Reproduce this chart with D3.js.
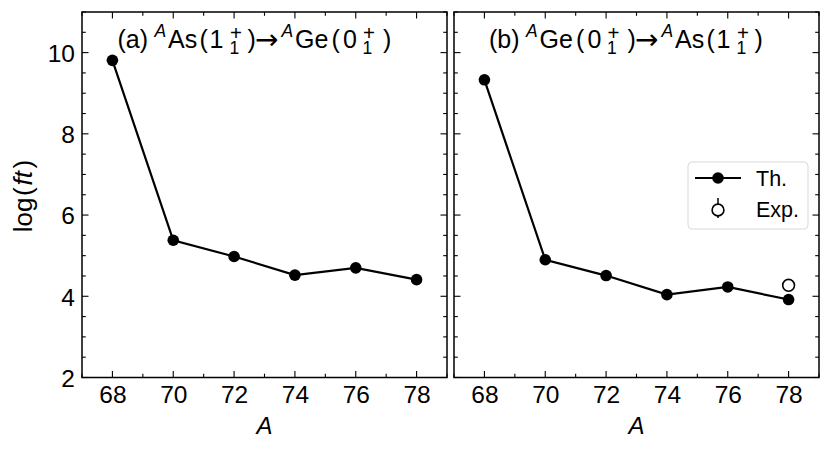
<!DOCTYPE html>
<html>
<head>
<meta charset="utf-8">
<script src="https://cdn.jsdelivr.net/npm/d3@7"></script>
<style>
html,body{margin:0;padding:0;background:#fff;}
text{font-family:"Liberation Sans",Arial,Helvetica,sans-serif;fill:#000;}
</style>
</head>
<body>
<svg id="chart" width="831" height="451"></svg>
<script>
// ---- data ----
const massNumbers = [68, 70, 72, 74, 76, 78];
const thA = [9.81, 5.38, 4.98, 4.52, 4.70, 4.41];   // (a) As -> Ge
const thB = [9.33, 4.90, 4.51, 4.04, 4.23, 3.92];   // (b) Ge -> As
const expB_A = [78];
const expB = [4.27];
const expB_err = [0.05];
const xTicks = [68, 70, 72, 74, 76, 78];
const yTicks = [2, 4, 6, 8, 10];
const legendLabels = ["Th.", "Exp."];

const svg = d3.select("#chart");
const plotTop = 12, plotBottom = 377.5;
const panels = [
  {x0: 82, x1: 447, th: thA, exp: false, tag: "(a)", from: ["As", "1"], to: ["Ge", "0"], tx: 117.5},
  {x0: 454, x1: 819, th: thB, exp: true, tag: "(b)", from: ["Ge", "0"], to: ["As", "1"], tx: 489}
];

const y = d3.scaleLinear().domain([2, 11]).range([plotBottom, plotTop]);

function minorRange(a, b, step){ const r=[]; for(let v=a; v<=b+1e-9; v+=step) r.push(+v.toFixed(4)); return r; }

// relative offsets of pieces after the nucleus symbol start
const nucOffsets = {As: {paren: 31.5, num: 41.5, sup: 62, sub: 61.5, close: 79.5},
                    Ge: {paren: 36.5, num: 48, sup: 68, sub: 67.5, close: 88}};

panels.forEach((p, i) => {
  const x = d3.scaleLinear().domain([67, 79]).range([p.x0, p.x1]);
  const g = svg.append("g");

  const tg = g.append("g").attr("stroke", "#000").attr("stroke-width", 1.1);
  minorRange(67, 79, 1).forEach(v => {
    const L = xTicks.includes(v) ? 6.5 : 3.8;
    tg.append("line").attr("x1", x(v)).attr("x2", x(v)).attr("y1", plotBottom).attr("y2", plotBottom - L);
    tg.append("line").attr("x1", x(v)).attr("x2", x(v)).attr("y1", plotTop).attr("y2", plotTop + L);
  });
  minorRange(2, 11, 0.5).forEach(v => {
    const L = yTicks.includes(v) ? 6.5 : 3.8;
    tg.append("line").attr("x1", p.x0).attr("x2", p.x0 + L).attr("y1", y(v)).attr("y2", y(v));
    tg.append("line").attr("x1", p.x1).attr("x2", p.x1 - L).attr("y1", y(v)).attr("y2", y(v));
  });

  const xAxis = d3.axisBottom(x).tickValues(xTicks).tickSize(0).tickPadding(0).tickFormat(d3.format("d"));
  const xa = g.append("g").attr("transform", `translate(0,${plotBottom})`).call(xAxis);
  xa.select(".domain").remove();
  xa.selectAll("text").attr("font-size", 24.5).attr("dy", null).attr("y", 25.3)
    .style("font-family", '"Liberation Sans",Arial,sans-serif').attr("fill", "#000");

  if (i === 0) {
    const yAxis = d3.axisLeft(y).tickValues(yTicks).tickSize(0).tickPadding(7).tickFormat(d3.format("d"));
    const ya = g.append("g").attr("transform", `translate(${p.x0},0)`).call(yAxis);
    ya.select(".domain").remove();
    ya.selectAll("text").attr("font-size", 24.5).attr("dy", "0.36em")
      .style("font-family", '"Liberation Sans",Arial,sans-serif').attr("fill", "#000");
  }

  const line = d3.line().x((d, j) => x(massNumbers[j])).y(d => y(d));
  g.append("path").datum(p.th).attr("d", line).attr("fill", "none")
    .attr("stroke", "#000").attr("stroke-width", 2.2);
  g.selectAll("circle.th").data(p.th).enter().append("circle")
    .attr("cx", (d, j) => x(massNumbers[j])).attr("cy", d => y(d)).attr("r", 5.8).attr("fill", "#000");

  if (p.exp) {
    expB.forEach((v, j) => {
      g.append("line").attr("x1", x(expB_A[j])).attr("x2", x(expB_A[j]))
        .attr("y1", y(v - expB_err[j])).attr("y2", y(v + expB_err[j])).attr("stroke", "#000").attr("stroke-width", 1.5);
      g.append("circle").attr("cx", x(expB_A[j])).attr("cy", y(v)).attr("r", 5.9)
        .attr("fill", "#fff").attr("stroke", "#000").attr("stroke-width", 1.6);
    });
  }

  g.append("rect").attr("x", p.x0).attr("y", plotTop).attr("width", p.x1 - p.x0).attr("height", plotBottom - plotTop)
    .attr("fill", "none").attr("stroke", "#000").attr("stroke-width", 1.5);

  g.append("text").attr("x", (p.x0 + p.x1) / 2).attr("y", 434).attr("text-anchor", "middle")
    .attr("font-size", 24).attr("font-style", "italic").text("A");

  // title, laid out piece by piece
  const t = g.append("text").attr("font-size", 25);
  const base = 48;
  const piece = (txt, xx, yy, size, style) => {
    const s = t.append("tspan").attr("x", xx).attr("y", yy).text(txt);
    if (size) s.attr("font-size", size);
    if (style) s.attr("font-style", style);
    return s;
  };
  piece(p.tag, p.tx, base);
  let cx = p.tx + 37;
  [p.from, p.to].forEach((nuc, k) => {
    piece("A", cx, 37, 17.5, "italic");
    const ns = cx + 13.5;
    const o = nucOffsets[nuc[0]];
    piece(nuc[0], ns, base);
    piece("(", ns + o.paren, base);
    piece(nuc[1], ns + o.num, base);
    piece("+", ns + o.sup, 39.5, 20.5);
    piece("1", ns + o.sub, 54, 17.5);
    piece(")", ns + o.close, base);
    if (k === 0) {
      piece("\u2192", ns + o.close + 7.5, 49, 28).style("font-family", '"DejaVu Sans",sans-serif');
      cx = ns + o.close + 34;
    }
  });
});

// y label
svg.append("text").attr("transform", "translate(31.5,196) rotate(-90)").attr("text-anchor", "middle")
  .attr("font-size", 26)
  .call(s => {
    s.append("tspan").text("log");
    s.append("tspan").attr("dx", 1.5).text("(");
    s.append("tspan").attr("dx", 2).attr("font-style", "italic").text("ft");
    s.append("tspan").attr("dx", 2.5).text(")");
  });

// legend
const lg = svg.append("g");
lg.append("rect").attr("x", 688).attr("y", 162).attr("width", 120).attr("height", 67).attr("rx", 4)
  .attr("fill", "#fff").attr("fill-opacity", 0.8).attr("stroke", "#d9d9d9").attr("stroke-width", 1);
lg.append("line").attr("x1", 695).attr("x2", 741).attr("y1", 178).attr("y2", 178).attr("stroke", "#000").attr("stroke-width", 2.2);
lg.append("circle").attr("cx", 718).attr("cy", 178).attr("r", 5.8).attr("fill", "#000");
lg.append("text").attr("x", 756).attr("y", 186).attr("font-size", 21.5).text(legendLabels[0]);
lg.append("line").attr("x1", 718).attr("x2", 718).attr("y1", 198).attr("y2", 218).attr("stroke", "#000").attr("stroke-width", 1.5);
lg.append("circle").attr("cx", 718).attr("cy", 210).attr("r", 5.9).attr("fill", "#fff").attr("stroke", "#000").attr("stroke-width", 1.6);
lg.append("text").attr("x", 756).attr("y", 217).attr("font-size", 21.5).text(legendLabels[1]);
</script>
</body>
</html>
